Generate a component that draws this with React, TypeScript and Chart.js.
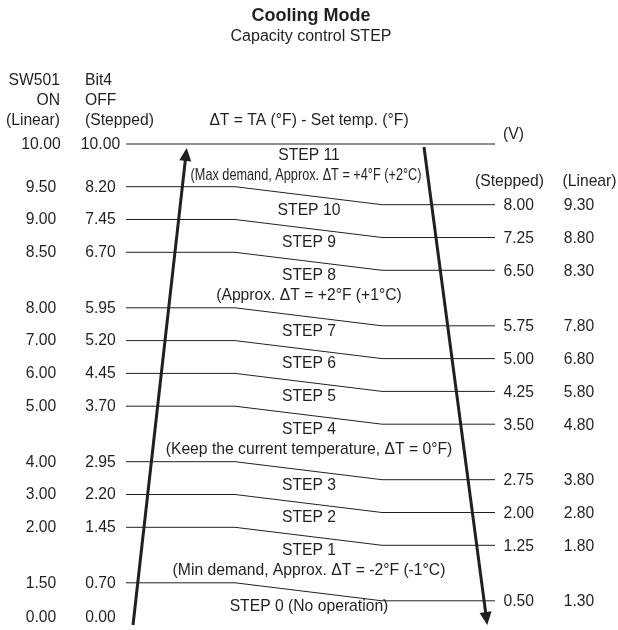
import { useEffect, useRef } from "react";
import { Chart, registerables } from "chart.js";

Chart.register(...registerables);

// ---- data ----
const leftLinear = [10.0, 9.5, 9.0, 8.5, 8.0, 7.0, 6.0, 5.0, 4.0, 3.0, 2.0, 1.5, 0.0];
const leftStepped = [10.0, 8.2, 7.45, 6.7, 5.95, 5.2, 4.45, 3.7, 2.95, 2.2, 1.45, 0.7, 0.0];
const rightStepped = [8.0, 7.25, 6.5, 5.75, 5.0, 4.25, 3.5, 2.75, 2.0, 1.25, 0.5];
const rightLinear = [9.3, 8.8, 8.3, 7.8, 6.8, 5.8, 4.8, 3.8, 2.8, 1.8, 1.3];
const stepNames = [
  "STEP 11",
  "STEP 10",
  "STEP 9",
  "STEP 8",
  "STEP 7",
  "STEP 6",
  "STEP 5",
  "STEP 4",
  "STEP 3",
  "STEP 2",
  "STEP 1",
  "STEP 0 (No operation)",
];
const stepNotes = [
  "(Max demand, Approx. ΔT = +4°F (+2°C)",
  "",
  "",
  "(Approx. ΔT = +2°F (+1°C)",
  "",
  "",
  "",
  "(Keep the current temperature, ΔT = 0°F)",
  "",
  "",
  "(Min demand, Approx. ΔT = -2°F (-1°C)",
  "",
];
const titleText = "Cooling Mode";
const subtitleText = "Capacity control STEP";
const formulaText = "ΔT = TA (°F) - Set temp. (°F)";
const unitText = "(V)";
const leftHeaders1 = ["SW501", "ON", "(Linear)"];
const leftHeaders2 = ["Bit4", "OFF", "(Stepped)"];
const rightHeaders = ["(Stepped)", "(Linear)"];

// ---- layout (diagram coordinates) ----
const W = 618;
const H = 630;
const TOP_Y = 144;
const STEP_H = 32.8;
const NOTE_EXTRA = 22.7;
const FIRST_EXTRA = 5.2;
const DROP = 18;
const X_START = 126;
const X_BEND1 = 235;
const X_BEND2 = 382;
const X_END = 495;
const BOTTOM_Y = 617;
const LABEL_X = 309;

const INK = "#231f20";
const FONT = '"Liberation Sans", Arial, sans-serif';
const FS = 15.7;

function rightBoundaries(): number[] {
  const out: number[] = [];
  let y = TOP_Y;
  for (let i = 0; i < rightStepped.length; i++) {
    y += STEP_H + (stepNotes[i] ? NOTE_EXTRA : 0) + (i === 0 ? FIRST_EXTRA : 0);
    out.push(y);
  }
  return out;
}

export default function App() {
  const ref = useRef<HTMLCanvasElement | null>(null);

  useEffect(() => {
    document.body.style.margin = "0";
    const canvas = ref.current;
    if (!canvas) return;

    const rB = rightBoundaries();
    const lB = rB.map((y) => y - DROP);
    const leftRowsY = [TOP_Y, ...lB, BOTTOM_Y];

    const lineStyle = {
      borderColor: INK,
      backgroundColor: INK,
      borderWidth: 1,
      pointRadius: 0,
      showLine: true,
      fill: false,
      tension: 0,
    };

    const datasets: any[] = [];
    datasets.push({
      ...lineStyle,
      data: [
        { x: X_START, y: TOP_Y },
        { x: X_END, y: TOP_Y },
      ],
    });
    rB.forEach((ry, i) => {
      const ly = lB[i];
      datasets.push({
        ...lineStyle,
        data: [
          { x: X_START, y: ly },
          { x: X_BEND1, y: ly },
          { x: X_BEND2, y: ry },
          { x: X_END, y: ry },
        ],
      });
    });

    // arrows: [fromX, fromY, tipX, tipY]
    const arrows = [
      [133, 625, 186.7, 148],
      [424, 147, 487.3, 625],
    ];
    const HEAD_LEN = 13;
    const HEAD_HALF = 6;
    arrows.forEach(([fx, fy, tx, ty]) => {
      const dx = tx - fx;
      const dy = ty - fy;
      const len = Math.hypot(dx, dy);
      const ex = tx - (dx / len) * (HEAD_LEN - 2);
      const ey = ty - (dy / len) * (HEAD_LEN - 2);
      datasets.push({
        ...lineStyle,
        borderWidth: 3,
        borderCapStyle: "butt",
        data: [
          { x: fx, y: fy },
          { x: ex, y: ey },
        ],
      });
    });

    const textPlugin = {
      id: "diagramText",
      afterDatasetsDraw(chart: any) {
        const ctx = chart.ctx as CanvasRenderingContext2D;
        const xs = chart.scales.x;
        const ys = chart.scales.y;
        const px = (v: number) => xs.getPixelForValue(v);
        const py = (v: number) => ys.getPixelForValue(v);

        ctx.save();
        // arrowheads
        ctx.fillStyle = INK;
        arrows.forEach(([fx, fy, tx, ty]) => {
          const x0 = px(fx);
          const y0 = py(fy);
          const x1 = px(tx);
          const y1 = py(ty);
          const dx = x1 - x0;
          const dy = y1 - y0;
          const len = Math.hypot(dx, dy);
          const ux = dx / len;
          const uy = dy / len;
          const bx = x1 - ux * HEAD_LEN;
          const by = y1 - uy * HEAD_LEN;
          ctx.beginPath();
          ctx.moveTo(x1, y1);
          ctx.lineTo(bx - uy * HEAD_HALF, by + ux * HEAD_HALF);
          ctx.lineTo(bx + uy * HEAD_HALF, by - ux * HEAD_HALF);
          ctx.closePath();
          ctx.fill();
        });

        ctx.fillStyle = INK;
        ctx.textBaseline = "middle";

        // title & subtitle
        ctx.textAlign = "center";
        ctx.font = `bold 18px ${FONT}`;
        ctx.fillText(titleText, px(311), py(16));
        ctx.font = `16px ${FONT}`;
        ctx.fillText(subtitleText, px(311), py(37));

        ctx.font = `${FS}px ${FONT}`;
        ctx.fillText(formulaText, px(309), py(121));

        // left headers
        ctx.textAlign = "right";
        leftHeaders1.forEach((t, i) => ctx.fillText(t, px(60), py(81 + i * 19.7)));
        ctx.textAlign = "left";
        leftHeaders2.forEach((t, i) => ctx.fillText(t, px(85), py(81 + i * 19.7)));
        ctx.fillText(unitText, px(503), py(135));

        // right headers
        ctx.textAlign = "center";
        ctx.fillText(rightHeaders[0], px(509.5), py(181.5));
        ctx.fillText(rightHeaders[1], px(589.5), py(181.5));

        // left values
        leftLinear.forEach((v, i) => {
          ctx.fillText(v.toFixed(2), px(41), py(leftRowsY[i] + 0.5));
        });
        leftStepped.forEach((v, i) => {
          ctx.fillText(v.toFixed(2), px(100.5), py(leftRowsY[i] + 0.5));
        });
        // right values
        rightStepped.forEach((v, i) => {
          ctx.fillText(v.toFixed(2), px(518.7), py(rB[i] + 1));
        });
        rightLinear.forEach((v, i) => {
          ctx.fillText(v.toFixed(2), px(579), py(rB[i] + 1));
        });

        // step labels
        stepNames.forEach((name, s) => {
          const upperMid = s === 0 ? TOP_Y - 3 : rB[s - 1] - DROP / 2;
          ctx.font = `${FS}px ${FONT}`;
          ctx.fillText(name, px(LABEL_X), py(upperMid + 14.5));
          const note = stepNotes[s];
          if (note) {
            const ny = py(upperMid + 34.5);
            if (s === 0) {
              ctx.save();
              ctx.translate(px(306), ny);
              ctx.scale(0.81, 1);
              ctx.fillText(note, 0, 0);
              ctx.restore();
            } else {
              ctx.fillText(note, px(LABEL_X), ny);
            }
          }
        });
        ctx.restore();
      },
    };

    const chart = new Chart(canvas, {
      type: "scatter",
      data: { datasets },
      options: {
        animation: false,
        responsive: false,
        maintainAspectRatio: false,
        layout: { padding: 0 },
        events: [],
        plugins: {
          legend: { display: false },
          tooltip: { enabled: false },
          title: { display: false },
        },
        scales: {
          x: { type: "linear", min: 0, max: W, display: false },
          y: { type: "linear", min: 0, max: H, reverse: true, display: false },
        },
      },
      plugins: [textPlugin],
    });

    return () => chart.destroy();
  }, []);

  return (
    <div style={{ width: W, height: H, background: "#fff" }}>
      <canvas ref={ref} width={W} height={H} style={{ display: "block" }} />
    </div>
  );
}
